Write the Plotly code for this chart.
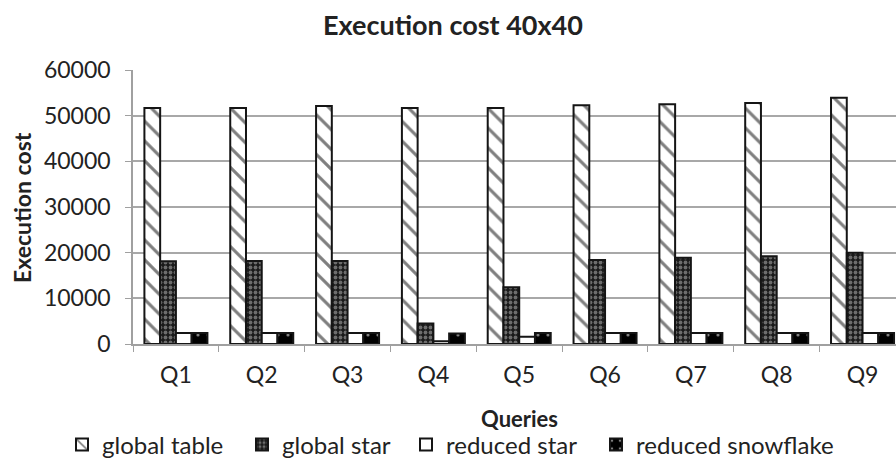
import plotly.graph_objs as go

queries = ['Q1', 'Q2', 'Q3', 'Q4', 'Q5', 'Q6', 'Q7', 'Q8', 'Q9']
global_table = [51700, 51700, 52100, 51700, 51700, 52300, 52500, 52800, 53900]
global_star = [18100, 18200, 18200, 4500, 12400, 18400, 18900, 19200, 20000]
reduced_star = [2400, 2400, 2400, 600, 1600, 2400, 2400, 2400, 2400]
reduced_snowflake = [2400, 2400, 2400, 2300, 2400, 2400, 2400, 2400, 2400]

FONT = 'Lato'
TXT = '#222222'
W, H = 896, 458
EDGE = dict(color='#151515', width=2)

fig = go.Figure()

# each series gets its own legend so the entries can sit where they sit in the original
fig.add_trace(go.Bar(
    x=queries, y=global_table, name='global table', legend='legend',
    marker=dict(color='white', line=EDGE,
                pattern=dict(shape='\\', fgcolor='#000000', bgcolor='white',
                             size=14, solidity=0.22)),
))
fig.add_trace(go.Bar(
    x=queries, y=global_star, name='global star', legend='legend2',
    marker=dict(color='#222', line=EDGE,
                pattern=dict(shape='.', fgcolor='#c0c0c0', bgcolor='#1a1a1a',
                             size=5, solidity=0.45)),
))
fig.add_trace(go.Bar(
    x=queries, y=reduced_star, name='reduced star', legend='legend3',
    marker=dict(color='white', line=EDGE),
))
fig.add_trace(go.Bar(
    x=queries, y=reduced_snowflake, name='reduced snowflake', legend='legend4',
    marker=dict(color='black', line=EDGE,
                pattern=dict(shape='.', fgcolor='white', bgcolor='black',
                             size=10, solidity=0.08)),
))


def leg(text_x):
    return dict(orientation='h', xref='container', yref='container',
                x=(text_x - 41) / W, xanchor='left',
                y=1 - 445 / H, yanchor='middle',
                font=dict(family=FONT, size=24, color=TXT),
                itemwidth=30, bgcolor='rgba(0,0,0,0)', visible=True)


fig.update_layout(
    width=W, height=H, showlegend=True,
    margin=dict(l=133, r=0, t=70, b=114),
    paper_bgcolor='white', plot_bgcolor='white',
    barmode='group', bargap=0.266, bargroupgap=0,
    font=dict(family=FONT, size=21, color=TXT),
    title=dict(text='<b>Execution cost 40x40</b>', x=453 / W, xref='container',
               xanchor='center', y=1 - 26 / H, yref='container', yanchor='middle',
               font=dict(family=FONT, size=27, color=TXT)),
    xaxis=dict(
        range=[-0.5, 8.39], automargin=False,
        tickfont=dict(size=23), ticklabelstandoff=10,
        showline=True, linecolor='#a0a0a0', linewidth=1.5,
        ticks='outside', tickson='boundaries', ticklen=6, tickcolor='#a0a0a0',
        showgrid=False,
    ),
    yaxis=dict(
        range=[0, 60000], dtick=10000, tickformat='d', automargin=False,
        tickfont=dict(size=23), ticklabelstandoff=10,
        showline=True, linecolor='#a0a0a0', linewidth=1.5,
        ticks='outside', ticklen=6, tickcolor='#a0a0a0',
        showgrid=True, gridcolor='#a8a8a8', gridwidth=1.5,
        zeroline=False,
    ),
    legend=leg(103),
    legend2=leg(283),
    legend3=leg(447),
    legend4=leg(637),
)

# axis titles as annotations, placed where they are in the original
fig.add_annotation(text='<b>Queries</b>', xref='paper', yref='paper',
                   x=(519 - 133) / (W - 133), y=-(418 - 344) / (344 - 70),
                   xanchor='center', yanchor='middle', showarrow=False,
                   font=dict(family=FONT, size=22, color=TXT))
fig.add_annotation(text='<b>Execution cost</b>', xref='paper', yref='paper',
                   x=-(133 - 22) / (W - 133), y=0.5, textangle=-90,
                   xanchor='center', yanchor='middle', showarrow=False,
                   font=dict(family=FONT, size=23, color=TXT))

fig.write_html('out.html', config={'displayModeBar': False},
               post_script="document.body.style.margin='0';")
